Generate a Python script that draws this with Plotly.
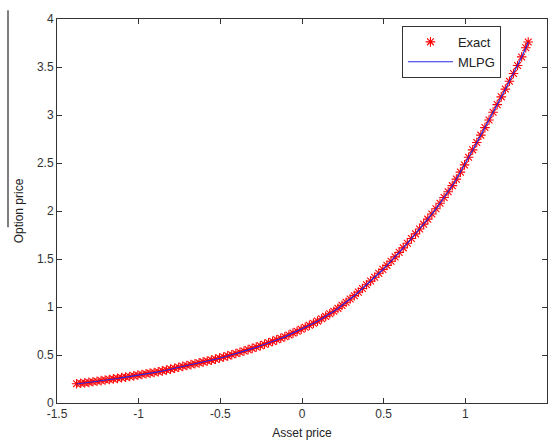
import plotly.graph_objects as go

asset_price = [-1.38, -1.355, -1.33, -1.305, -1.28, -1.255, -1.23, -1.205, -1.18, -1.155,
               -1.13, -1.105, -1.08, -1.055, -1.03, -1.005, -0.98, -0.955, -0.93, -0.905,
               -0.88, -0.855, -0.83, -0.805, -0.78, -0.755, -0.73, -0.705, -0.68, -0.655,
               -0.63, -0.605, -0.58, -0.555, -0.53, -0.505, -0.48, -0.455, -0.43, -0.405,
               -0.38, -0.355, -0.33, -0.305, -0.28, -0.255, -0.23, -0.205, -0.18, -0.155,
               -0.13, -0.105, -0.08, -0.055, -0.03, -0.005, 0.02, 0.045, 0.07, 0.095,
               0.12, 0.145, 0.17, 0.195, 0.22, 0.245, 0.27, 0.295, 0.32, 0.345,
               0.37, 0.395, 0.42, 0.445, 0.47, 0.495, 0.52, 0.545, 0.57, 0.595,
               0.62, 0.645, 0.67, 0.695, 0.72, 0.745, 0.77, 0.795, 0.82, 0.845,
               0.87, 0.895, 0.92, 0.945, 0.97, 0.995, 1.02, 1.045, 1.07, 1.095,
               1.12, 1.145, 1.17, 1.195, 1.22, 1.245, 1.27, 1.295, 1.32, 1.345,
               1.37, 1.385]
exact_price = [0.200, 0.205, 0.210, 0.215, 0.221, 0.227, 0.233, 0.239, 0.245, 0.251,
               0.257, 0.264, 0.270, 0.276, 0.283, 0.290, 0.297, 0.304, 0.311, 0.318,
               0.326, 0.335, 0.344, 0.353, 0.362, 0.372, 0.382, 0.391, 0.400, 0.409,
               0.418, 0.428, 0.437, 0.447, 0.457, 0.468, 0.479, 0.491, 0.503, 0.515,
               0.528, 0.542, 0.556, 0.569, 0.583, 0.597, 0.612, 0.627, 0.642, 0.658,
               0.674, 0.690, 0.709, 0.728, 0.748, 0.768, 0.789, 0.810, 0.831, 0.853,
               0.877, 0.902, 0.929, 0.956, 0.986, 1.017, 1.050, 1.083, 1.118, 1.155,
               1.193, 1.231, 1.270, 1.310, 1.351, 1.392, 1.434, 1.477, 1.522, 1.569,
               1.616, 1.664, 1.713, 1.762, 1.812, 1.863, 1.915, 1.969, 2.024, 2.081,
               2.140, 2.200, 2.264, 2.332, 2.405, 2.480, 2.560, 2.637, 2.713, 2.790,
               2.869, 2.948, 3.028, 3.108, 3.189, 3.270, 3.351, 3.433, 3.516, 3.605,
               3.700, 3.760]
mlpg_price = [0.198, 0.203, 0.208, 0.213, 0.219, 0.225, 0.231, 0.237, 0.243, 0.249,
              0.255, 0.262, 0.268, 0.274, 0.281, 0.288, 0.295, 0.302, 0.309, 0.316,
              0.324, 0.333, 0.342, 0.351, 0.360, 0.370, 0.380, 0.389, 0.398, 0.407,
              0.416, 0.426, 0.435, 0.445, 0.455, 0.466, 0.477, 0.489, 0.501, 0.513,
              0.526, 0.540, 0.554, 0.567, 0.581, 0.595, 0.610, 0.625, 0.640, 0.656,
              0.672, 0.689, 0.708, 0.727, 0.747, 0.767, 0.788, 0.809, 0.830, 0.852,
              0.876, 0.901, 0.928, 0.955, 0.985, 1.016, 1.049, 1.082, 1.117, 1.154,
              1.192, 1.230, 1.269, 1.309, 1.350, 1.391, 1.433, 1.476, 1.521, 1.568,
              1.615, 1.663, 1.712, 1.761, 1.811, 1.862, 1.914, 1.968, 2.023, 2.080,
              2.139, 2.199, 2.263, 2.331, 2.404, 2.479, 2.559, 2.636, 2.712, 2.789,
              2.868, 2.947, 3.027, 3.107, 3.188, 3.269, 3.350, 3.432, 3.515, 3.604,
              3.699, 3.759]

x_ticks = [-1.5, -1, -0.5, 0, 0.5, 1, 1.5]
x_tick_labels = ["-1.5", "-1", "-0.5", "0", "0.5", "1", "1.5"]
y_ticks = [0, 0.5, 1, 1.5, 2, 2.5, 3, 3.5, 4]
y_tick_labels = ["0", "0.5", "1", "1.5", "2", "2.5", "3", "3.5", "4"]

fig = go.Figure()
fig.add_trace(go.Scatter(
    x=asset_price, y=exact_price, mode="markers", name="Exact",
    marker=dict(symbol="asterisk-open", size=8, color="red",
                line=dict(color="red", width=1.1)),
))
fig.add_trace(go.Scatter(
    x=asset_price, y=mlpg_price, mode="lines", name="MLPG",
    line=dict(color="rgb(40,40,230)", width=1.2),
))

axis_common = dict(
    showgrid=False, zeroline=False, showline=True, linecolor="#333",
    linewidth=1, mirror="ticks", ticks="inside", ticklen=5, tickcolor="#333",
    automargin=False,
    tickfont=dict(family="Liberation Sans, Arial", size=12, color="#333"),
)
fig.update_xaxes(range=[-1.5, 1.5], tickvals=x_ticks, ticktext=x_tick_labels,
                 title=dict(text="Asset price", standoff=8,
                            font=dict(family="Liberation Sans, Arial", size=12, color="#222")),
                 **axis_common)
fig.update_yaxes(range=[0, 4], tickvals=y_ticks, ticktext=y_tick_labels,
                 title=dict(text="Option price", standoff=10,
                            font=dict(family="Liberation Sans, Arial", size=12, color="#222")),
                 **axis_common)

fig.add_shape(type="line", xref="paper", yref="paper",
              x0=-0.1, x1=-0.1, y0=0.458, y1=1.023,
              line=dict(color="#555", width=1.5))

fig.update_layout(
    width=555, height=444,
    margin=dict(l=57, r=8, t=19, b=41),
    paper_bgcolor="white", plot_bgcolor="white",
    font=dict(family="Liberation Sans, Arial", size=12, color="#222"),
    legend=dict(x=0.906, y=0.982, xanchor="right", yanchor="top",
                bgcolor="white", bordercolor="#333", borderwidth=1,
                font=dict(size=13), tracegroupgap=0, itemwidth=45),
    showlegend=True,
)

fig.write_html("out.html")
